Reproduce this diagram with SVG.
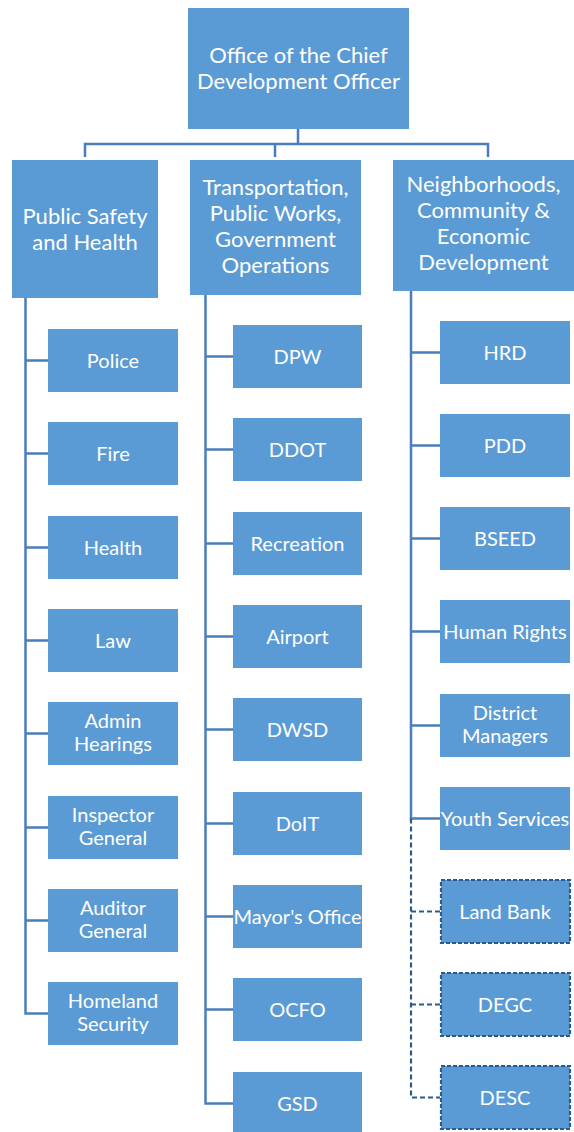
<svg xmlns="http://www.w3.org/2000/svg" width="574" height="1132" viewBox="0 0 574 1132">
<style>
.b{fill:#5B9BD5}
.d{fill:#5B9BD5;stroke:#2B5A8C;stroke-width:2.2;stroke-dasharray:4 2}
.t{font-family:Lato,"Open Sans",sans-serif;font-size:20px;fill:#fff;text-anchor:middle}
.h{font-size:22px}
.c{fill:none;stroke:#4A7EBB;stroke-width:2.5}
.cd{fill:none;stroke:#2B5A8C;stroke-width:2.2;stroke-dasharray:5 3}
</style>
<rect width="574" height="1132" fill="#fff"/>
<g id="connectors">
<path class="c" d="M298 129V144M85 157V144H488V157M275 144V157"/>
<path class="c" d="M25.5 298V1013.5H48M25.5 360.5H48M25.5 453.5H48M25.5 547.5H48M25.5 640.5H48M25.5 733.5H48M25.5 827.5H48M25.5 920.5H48"/>
<path class="c" d="M205.5 295V1103.5H233M205.5 356.5H233M205.5 449.5H233M205.5 543.5H233M205.5 636.5H233M205.5 729.5H233M205.5 823.5H233M205.5 916.5H233M205.5 1009.5H233"/>
<path class="c" d="M411 291V818.5H440M411 352.5H440M411 445.5H440M411 538.5H440M411 631.5H440M411 725.5H440"/>
<path class="cd" d="M411 818.5V1097.5H440M411 911.5H440M411 1004.5H440"/>
</g>
<g id="n0"><rect class="b" x="188" y="8" width="221" height="121"/><text class="t h" x="298.5" y="63">Office of the Chief</text><text class="t h" x="298.5" y="89">Development Officer</text></g>
<g id="n1"><rect class="b" x="12" y="160" width="146" height="138"/><text class="t h" x="85" y="224">Public Safety</text><text class="t h" x="85" y="250">and Health</text></g>
<g id="n2"><rect class="b" x="190" y="160" width="171" height="135"/><text class="t h" x="275.5" y="195">Transportation,</text><text class="t h" x="275.5" y="221">Public Works,</text><text class="t h" x="275.5" y="247">Government</text><text class="t h" x="275.5" y="273">Operations</text></g>
<g id="n3"><rect class="b" x="393" y="160" width="181" height="131"/><text class="t h" x="483.5" y="192">Neighborhoods,</text><text class="t h" x="483.5" y="218">Community &amp;</text><text class="t h" x="483.5" y="244">Economic</text><text class="t h" x="483.5" y="270">Development</text></g>
<g id="police"><rect class="b" x="48" y="329" width="130" height="63"/><text class="t" x="113" y="367.5">Police</text></g>
<g id="fire"><rect class="b" x="48" y="422" width="130" height="63"/><text class="t" x="113" y="460.5">Fire</text></g>
<g id="health"><rect class="b" x="48" y="516" width="130" height="63"/><text class="t" x="113" y="554.5">Health</text></g>
<g id="law"><rect class="b" x="48" y="609" width="130" height="63"/><text class="t" x="113" y="647.5">Law</text></g>
<g id="admin"><rect class="b" x="48" y="702" width="130" height="63"/><text class="t" x="113" y="727.5">Admin</text><text class="t" x="113" y="750.5">Hearings</text></g>
<g id="inspector"><rect class="b" x="48" y="796" width="130" height="63"/><text class="t" x="113" y="821.5">Inspector</text><text class="t" x="113" y="844.5">General</text></g>
<g id="auditor"><rect class="b" x="48" y="889" width="130" height="63"/><text class="t" x="113" y="914.5">Auditor</text><text class="t" x="113" y="937.5">General</text></g>
<g id="homeland"><rect class="b" x="48" y="982" width="130" height="63"/><text class="t" x="113" y="1007.5">Homeland</text><text class="t" x="113" y="1030.5">Security</text></g>
<g id="dpw"><rect class="b" x="233" y="325" width="129" height="63"/><text class="t" x="297.5" y="363.5">DPW</text></g>
<g id="ddot"><rect class="b" x="233" y="418" width="129" height="63"/><text class="t" x="297.5" y="456.5">DDOT</text></g>
<g id="recreation"><rect class="b" x="233" y="512" width="129" height="63"/><text class="t" x="297.5" y="550.5">Recreation</text></g>
<g id="airport"><rect class="b" x="233" y="605" width="129" height="63"/><text class="t" x="297.5" y="643.5">Airport</text></g>
<g id="dwsd"><rect class="b" x="233" y="698" width="129" height="63"/><text class="t" x="297.5" y="736.5">DWSD</text></g>
<g id="doit"><rect class="b" x="233" y="792" width="129" height="63"/><text class="t" x="297.5" y="830.5">DoIT</text></g>
<g id="mayor"><rect class="b" x="233" y="885" width="129" height="63"/><text class="t" x="297.5" y="923.5">Mayor's Office</text></g>
<g id="ocfo"><rect class="b" x="233" y="978" width="129" height="63"/><text class="t" x="297.5" y="1016.5">OCFO</text></g>
<g id="gsd"><rect class="b" x="233" y="1072" width="129" height="63"/><text class="t" x="297.5" y="1110.5">GSD</text></g>
<g id="hrd"><rect class="b" x="440" y="321" width="130" height="63"/><text class="t" x="505" y="359.5">HRD</text></g>
<g id="pdd"><rect class="b" x="440" y="414" width="130" height="63"/><text class="t" x="505" y="452.5">PDD</text></g>
<g id="bseed"><rect class="b" x="440" y="507" width="130" height="63"/><text class="t" x="505" y="545.5">BSEED</text></g>
<g id="humanrights"><rect class="b" x="440" y="600" width="130" height="63"/><text class="t" x="505" y="638.5">Human Rights</text></g>
<g id="district"><rect class="b" x="440" y="694" width="130" height="63"/><text class="t" x="505" y="719.5">District</text><text class="t" x="505" y="742.5">Managers</text></g>
<g id="youth"><rect class="b" x="440" y="787" width="130" height="63"/><text class="t" x="505" y="825.5">Youth Services</text></g>
<g id="landbank"><rect class="d" x="441" y="880" width="129" height="63"/><text class="t" x="505" y="918.5">Land Bank</text></g>
<g id="degc"><rect class="d" x="441" y="973" width="129" height="63"/><text class="t" x="505" y="1011.5">DEGC</text></g>
<g id="desc"><rect class="d" x="441" y="1066" width="129" height="63"/><text class="t" x="505" y="1104.5">DESC</text></g>
</svg>
